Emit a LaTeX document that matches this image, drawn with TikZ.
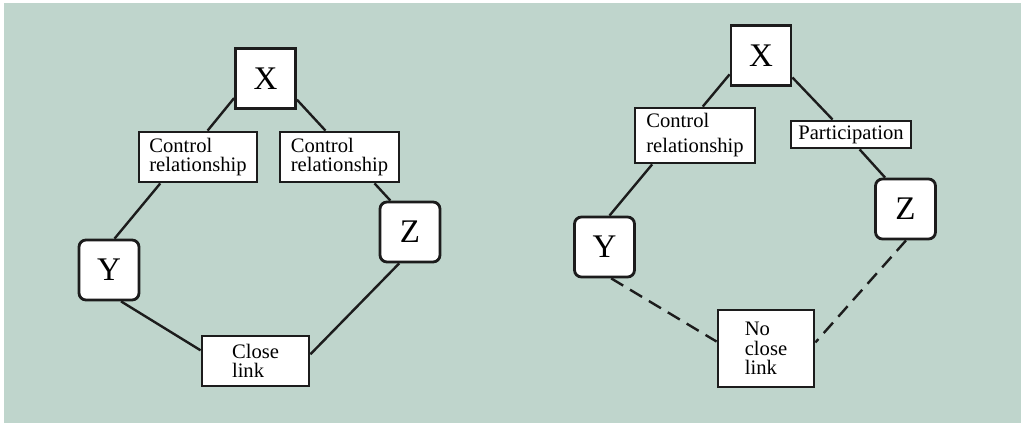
\documentclass[tikz,border=0pt]{standalone}
\usepackage{fontspec}
\setmainfont{Liberation Serif}
\definecolor{panelbg}{RGB}{191,213,204}
\definecolor{ink}{RGB}{28,28,28}
\begin{document}
\begin{tikzpicture}[x=0.5pt,y=-0.5pt,
  labelbox/.style={draw=ink, fill=white, line width=1.4pt, inner sep=0pt,
    align=left, font=\fontsize{10.3}{9.7}\selectfont},
  letterbox/.style={draw=ink, fill=white, line width=1.4pt, inner sep=0pt,
    minimum width=30pt, minimum height=30pt, font=\fontsize{16.5}{18}\selectfont},
  roundbox/.style={letterbox, rounded corners=3.5pt},
  link/.style={draw=ink, line width=1.2pt},
  nolink/.style={link, dash pattern=on 7pt off 4pt}]
\useasboundingbox (0,0) rectangle (1023,423);
\fill[white] (0,0) rectangle (1023,423);
\fill[panelbg] (4,3) rectangle (1021,423);

% ---- left panel: close link ----
\node[letterbox] (X1) at (265.5,78.5) {X};
\node[labelbox, minimum width=59pt, minimum height=25pt] (C1) at (198,157) {Control\\relationship};
\node[labelbox, minimum width=59.5pt, minimum height=25pt] (C2) at (339.5,157) {Control\\relationship};
\node[roundbox] (Y1) at (109,270) {Y};
\node[roundbox] (Z1) at (410,232) {Z};
\node[labelbox, minimum width=53.5pt, minimum height=25pt] (L1) at (255.5,361) {Close\\link};

\draw[link] (X1.212) -- (C1.70);
\draw[link] (X1.326.5) -- (C2.118.4);
\draw[link] (C1.215.5) -- (Y1.80.5);
\draw[link] (C2.323.3) -- (Z1.122.3);
\draw[link] (Y1.291.8) -- (L1.169.4);
\draw[link] (Z1.251.6) -- (L1.7.5);

% ---- right panel: no close link ----
\node[letterbox] (X2) at (761,55.5) {X};
\node[labelbox, minimum width=60pt, minimum height=27.5pt,
  font=\fontsize{10.3}{12.5}\selectfont] (C3) at (695,135.5) {Control\\relationship};
\node[labelbox, minimum width=60pt, minimum height=13.5pt] (P2) at (851,134.5) {Participation};
\node[roundbox] (Y2) at (604.5,247) {Y};
\node[roundbox] (Z2) at (905.5,209) {Z};
\node[labelbox, minimum width=48pt, minimum height=38.5pt] (L2) at (766,348.5) {No\\close\\link};

\draw[link] (X2.211.7) -- (C3.75.7);
\draw[link] (X2.325.7) -- (P2.141.5);
\draw[link] (C3.214.5) -- (Y2.81.5);
\draw[link] (P2.300.6) -- (Z2.123);
\draw[nolink] (Y2.282.2) -- (L2.172.3);
\draw[nolink] (Z2.271) -- (L2.7.7);
\end{tikzpicture}
\end{document}
